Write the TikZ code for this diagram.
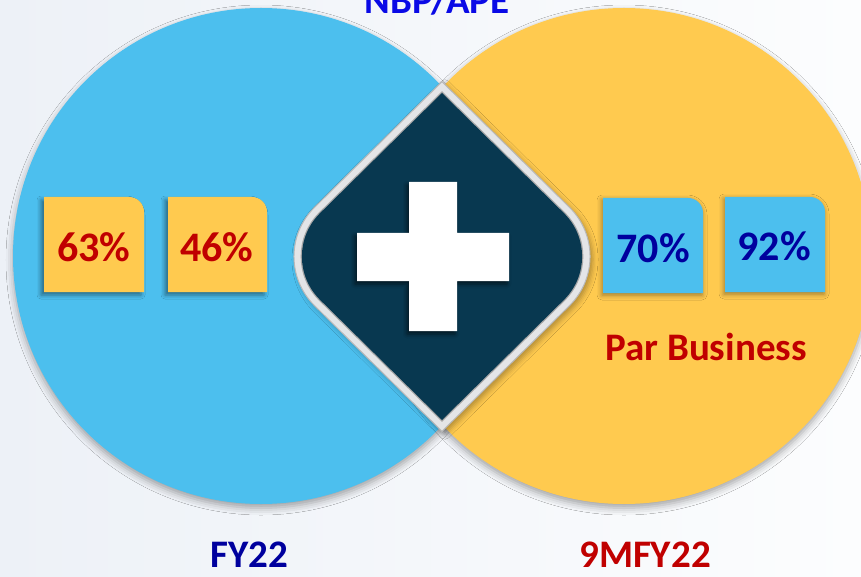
\documentclass[tikz,border=0pt]{standalone}
\usepackage{fontspec}
\setmainfont{Carlito}
\usetikzlibrary{calc,shadows.blur}

\definecolor{skyfill}{HTML}{4CBFEE}
\definecolor{sunfill}{HTML}{FFCA4F}
\definecolor{navyfill}{HTML}{083850}
\definecolor{ringfill}{HTML}{E4E5E7}
\definecolor{redtext}{HTML}{C00000}
\definecolor{darkbluetext}{HTML}{00009E}
\definecolor{headtext}{HTML}{0A0AE6}
\definecolor{bgleft}{HTML}{EDF1F7}
\definecolor{bgright}{HTML}{FCFDFE}

% card with a single rounded (top-right) corner: x1, y1, x2, y2, style
\newcommand\card[5]{%
  \fill[#5] (#1,#4) -- (#1,#2) -- ($(#3,#2)+(-15,0)$)
    .. controls ($(#3,#2)+(-6.7,0)$) and ($(#3,#2)+(0,6.7)$) .. ($(#3,#2)+(0,15)$)
    -- (#3,#4) -- cycle;}

\tikzset{
  disc/.style={circle, inner sep=0pt, minimum size=496pt,
    blur shadow={shadow xshift=0pt, shadow yshift=-4pt,
                 shadow blur radius=7pt, shadow opacity=35}},
  cardshade/.style={blur shadow={shadow xshift=-3pt, shadow yshift=-3pt,
                 shadow blur radius=4pt, shadow opacity=45}},
  cardglow/.style={blur shadow={shadow xshift=-1pt, shadow yshift=-2pt,
                 shadow blur radius=5pt, shadow opacity=40}},
  pct/.style={font=\fontsize{42}{42}\selectfont\bfseries, anchor=base, inner sep=0pt},
  caption/.style={font=\fontsize{39}{39}\selectfont\bfseries, anchor=base, inner sep=0pt},
}

\begin{document}
\begin{tikzpicture}[x=1pt,y=-1pt]
\useasboundingbox (0,0) rectangle (861,577);

% backdrop
\fill[left color=bgleft, right color=bgright] (0,0) rectangle (861,577);

% the two discs
\node[disc, fill=skyfill] (fy) at (261,256) {};
\node[disc, fill=sunfill] (nine) at (624,256) {};

% rounded lozenge: light rim, then dark face
\fill[ringfill, draw=gray!55, line width=1pt,
      blur shadow={shadow xshift=3pt, shadow yshift=-3pt,
                   shadow blur radius=5pt, shadow opacity=30}]
  (442,81.7) -- (314.6,207.3) .. controls (287.1,234.5) and (287.1,278.5) .. (314.6,305.7)
  -- (442,431.3) -- (569.4,305.7) .. controls (596.9,278.5) and (596.9,234.5) .. (569.4,207.3)
  -- cycle;
\fill[navyfill, draw=gray!70, line width=2.5pt]
  (442,93) -- (320.2,213) .. controls (295.8,237) and (295.8,276) .. (320.2,300)
  -- (442,420) -- (563.8,300) .. controls (588.2,276) and (588.2,237) .. (563.8,213)
  -- cycle;
\fill[navyfill]
  (442,93) -- (320.2,213) .. controls (295.8,237) and (295.8,276) .. (320.2,300)
  -- (442,420) -- (563.8,300) .. controls (588.2,276) and (588.2,237) .. (563.8,213)
  -- cycle;

% plus sign
\fill[white, blur shadow={shadow xshift=-2pt, shadow yshift=-3pt,
                          shadow blur radius=4pt, shadow opacity=60}]
  (409,182) -- (457,182) -- (457,233) -- (509,233) -- (509,281) -- (457,281)
  -- (457,331) -- (409,331) -- (409,281) -- (357,281) -- (357,233) -- (409,233) -- cycle;

% cards
\card{44}{197}{144}{292}{sunfill, cardshade}
\card{168}{197}{267}{292}{sunfill, cardshade}
\card{603}{198}{703}{293}{skyfill, cardglow}
\card{725}{197}{825}{292}{skyfill, cardglow}

\node[pct, text=redtext] (p63) at (94,261) {63\%};
\node[pct, text=redtext] (p46) at (217,261) {46\%};
\node[pct, text=darkbluetext] (p70) at (653,262) {70\%};
\node[pct, text=darkbluetext] (p92) at (774,260) {92\%};

\node[caption, text=redtext] (par) at (706,360) {Par Business};

% headings
\node[caption, text=headtext] (head) at (437,14) {NBP/APE};
\node[caption, text=darkbluetext] (fylabel) at (249,567) {FY22};
\node[caption, text=redtext] (ninelabel) at (645,567) {9MFY22};
\end{tikzpicture}
\end{document}
